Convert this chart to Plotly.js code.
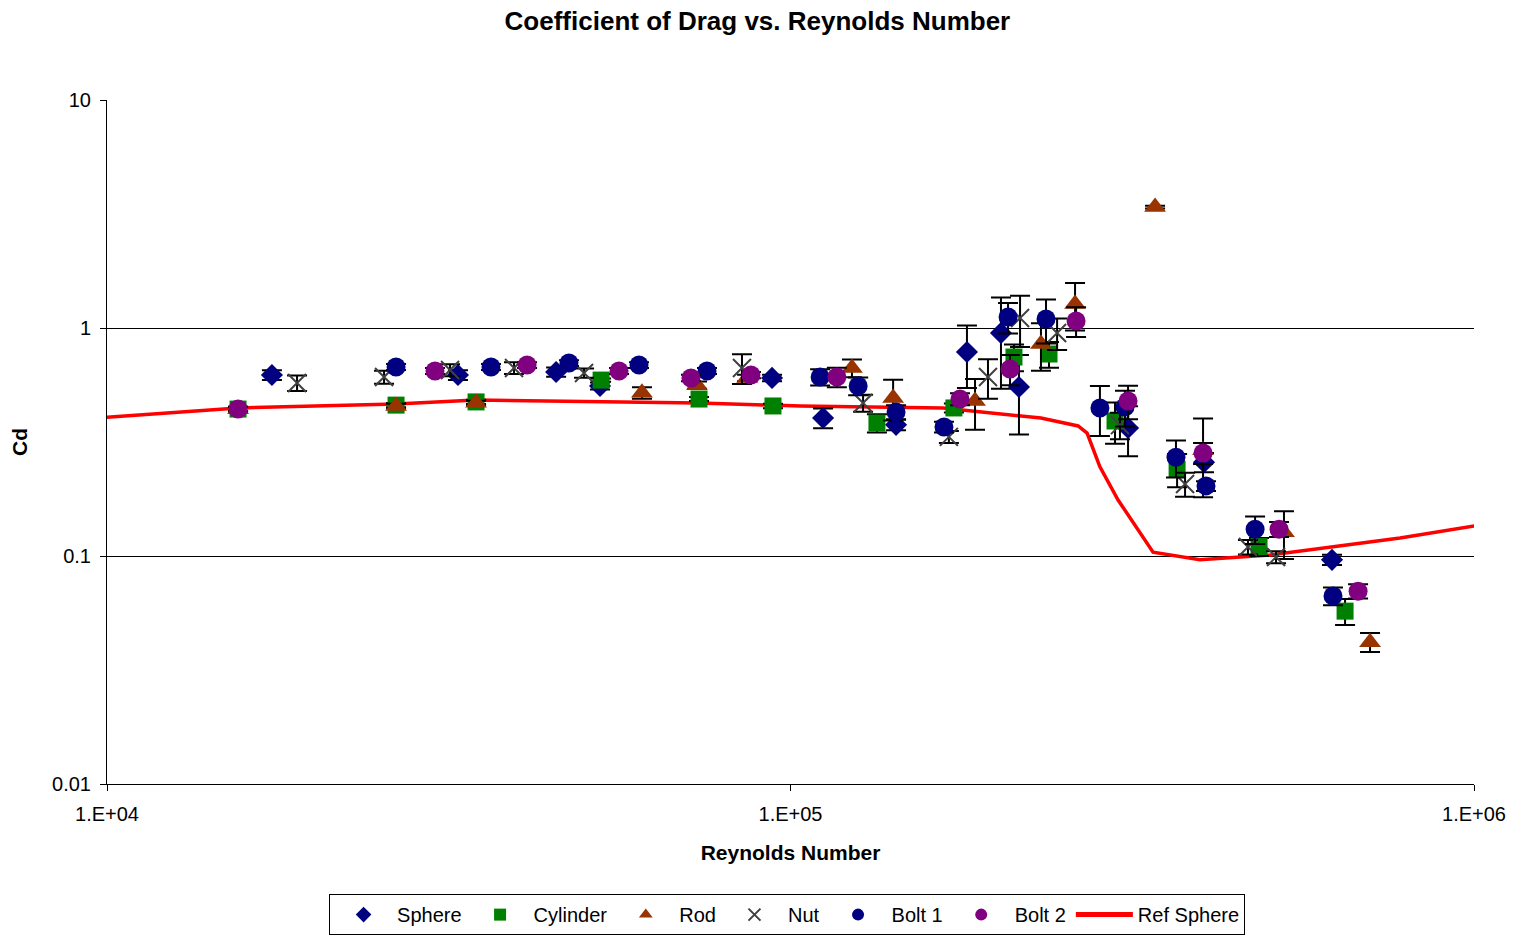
<!DOCTYPE html>
<html>
<head>
<meta charset="utf-8">
<script src="https://cdn.plot.ly/plotly-3.0.1.min.js"></script>
<style>html,body{margin:0;padding:0;background:#fff;}#chart{width:1524px;height:937px;}</style>
</head>
<body>
<div id="chart"></div>
<script>
// Sphere
const sphereRe  = [17430, 32620, 45400, 52640, 93970, 111600, 142700, 181200, 203200, 215900, 311800, 402700, 619800];
const sphereCd  = [0.622, 0.622, 0.641, 0.557, 0.604, 0.403, 0.376, 0.785, 0.951, 0.551, 0.364, 0.258, 0.0962];
const sphereErr = [0.03, 0.03, 0.03, 0.02, 0.02, 0.04, 0.02, 0.24, 0.41, 0.21, 0.09, 0.025, 0.005];
// Cylinder
const cylRe  = [15550, 26480, 34670, 52830, 73480, 94270, 133800, 173400, 212300, 238900, 298400, 367800, 484700, 647700];
const cylCd  = [0.441, 0.459, 0.474, 0.591, 0.488, 0.455, 0.383, 0.446, 0.746, 0.769, 0.391, 0.240, 0.110, 0.0573];
const cylErr = [0.01, 0.01, 0.01, 0.01, 0.01, 0.01, 0.035, 0.02, 0.1, 0.1, 0.08, 0.04, 0.01, 0.0075];
// Rod
const rodRe  = [15550, 26480, 34670, 60630, 72980, 86390, 123000, 141300, 186200, 232500, 260800, 341500, 401400, 527200, 704500];
const rodCd  = [0.44, 0.455, 0.47, 0.52, 0.562, 0.604, 0.668, 0.493, 0.478, 0.85, 1.274, 3.39, 0.291, 0.127, 0.0419];
const rodErr = [0.01, 0.01, 0.01, 0.03, 0.02, 0.02, 0.06, 0.1, 0.12, 0.2, 0.3, 0.05, 0.11, 0.03, 0.004];
// Nut
const nutRe  = [18970, 25430, 31760, 39400, 49880, 84920, 127700, 170500, 194500, 216700, 245500, 303400, 377800, 467000, 513300];
const nutCd  = [0.574, 0.610, 0.654, 0.668, 0.635, 0.668, 0.469, 0.333, 0.61, 1.106, 0.951, 0.375, 0.207, 0.1096, 0.099];
const nutErr = [0.045, 0.04, 0.04, 0.04, 0.03, 0.1, 0.04, 0.02, 0.12, 0.28, 0.15, 0.05, 0.025, 0.008, 0.006];
// Bolt 1
const bolt1Re  = [26480, 36460, 47410, 60030, 75480, 110500, 125600, 142700, 167700, 208100, 236500, 283600, 308600, 366400, 405400, 478300, 621900];
const bolt1Cd  = [0.675, 0.675, 0.702, 0.688, 0.648, 0.61, 0.557, 0.428, 0.368, 1.117, 1.095, 0.446, 0.45, 0.271, 0.203, 0.131, 0.0668];
const bolt1Err = [0.02, 0.02, 0.02, 0.02, 0.02, 0.05, 0.05, 0.03, 0.02, 0.17, 0.24, 0.11, 0.08, 0.05, 0.01, 0.018, 0.006];
// Bolt 2
const bolt2Re  = [15550, 30190, 41170, 56120, 71510, 87530, 116900, 177000, 209500, 261700, 311800, 401400, 518500, 676700];
const bolt2Cd  = [0.441, 0.648, 0.688, 0.648, 0.604, 0.622, 0.61, 0.488, 0.661, 1.073, 0.478, 0.283, 0.131, 0.0701];
const bolt2Err = [0.01, 0.02, 0.02, 0.02, 0.02, 0.02, 0.06, 0.03, 0.1, 0.16, 0.08, 0.03, 0.01, 0.005];
// Reference sphere curve
const refRe = [9670, 15550, 26480, 34670, 73480, 103300, 167100, 232500, 263500, 271600, 283600, 301500, 339200, 397200, 502900, 779500, 1038000];
const refCd = [0.403, 0.446, 0.464, 0.483, 0.469, 0.455, 0.446, 0.403, 0.372, 0.346, 0.246, 0.176, 0.104, 0.0962, 0.101, 0.120, 0.138];

const yTickVals = [0.01, 0.1, 1, 10];
const yTickText = ['0.01', '0.1', '1', '10'];
const xTickVals = [1e4, 1e5, 1e6];
const xTickText = ['1.E+04', '1.E+05', '1.E+06'];

const FONT = 'Liberation Sans, Arial, sans-serif';
function err(arr) {
  return {type: 'data', array: arr, symmetric: true, color: '#000', thickness: 2, width: 10};
}
function pts(name, x, y, e, symbol, color, size, rank, extra) {
  return {
    type: 'scatter', mode: 'markers', name: name, x: x, y: y,
    error_y: err(e), legendrank: rank,
    marker: Object.assign({symbol: symbol, color: color, size: size}, extra || {})
  };
}

const traces = [
  {type: 'scatter', mode: 'lines', name: 'Ref Sphere', x: refRe, y: refCd,
   line: {color: '#FF0000', width: 3.5}, legendrank: 7},
  pts('Sphere', sphereRe, sphereCd, sphereErr, 'diamond', '#000080', 17, 1),
  pts('Cylinder', cylRe, cylCd, cylErr, 'square', '#008000', 17, 2),
  pts('Rod', rodRe, rodCd, rodErr, 'triangle-up', '#993300', 19, 3),
  pts('Nut', nutRe, nutCd, nutErr, 'x-thin-open', '#404040', 18, 4, {line: {color: '#404040', width: 2}}),
  pts('Bolt 1', bolt1Re, bolt1Cd, bolt1Err, 'circle', '#000080', 19, 5),
  pts('Bolt 2', bolt2Re, bolt2Cd, bolt2Err, 'circle', '#800080', 19, 6)
];

const layout = {
  width: 1524, height: 937,
  margin: {l: 107, r: 50, t: 100, b: 153, autoexpand: false},
  paper_bgcolor: '#fff', plot_bgcolor: '#fff',
  font: {family: FONT, color: '#000'},
  title: {text: '<b>Coefficient of Drag vs. Reynolds Number</b>', font: {family: FONT, size: 26, color: '#000'},
          x: 0.497, xanchor: 'center', y: 0.978, yanchor: 'middle'},
  xaxis: {
    type: 'log', range: [4, 6], tickvals: xTickVals, ticktext: xTickText,
    tickfont: {size: 20}, showgrid: false, zeroline: false, automargin: false,
    showline: true, linecolor: '#000', linewidth: 1,
    ticks: 'outside', ticklen: 6, tickcolor: '#000', ticklabelstandoff: 6,
    title: {text: '<b>Reynolds Number</b>', font: {size: 21}, standoff: 21}
  },
  yaxis: {
    type: 'log', range: [-2, 1], tickvals: yTickVals, ticktext: yTickText,
    tickfont: {size: 20}, showgrid: true, gridcolor: '#000', gridwidth: 1, zeroline: false, automargin: false,
    showline: true, linecolor: '#000', linewidth: 1,
    ticks: 'outside', ticklen: 6, tickcolor: '#000', ticklabelstandoff: 5,
    title: {text: '<b>Cd</b>', font: {size: 21}, standoff: 18}
  },
  legend: {
    orientation: 'h', x: 0.4975, xanchor: 'center', y: -0.161, yanchor: 'top',
    bordercolor: '#000', borderwidth: 1, bgcolor: '#fff',
    font: {size: 20, family: FONT}, itemsizing: 'constant', itemwidth: 57, traceorder: 'normal'
  },
  showlegend: true
};

Plotly.newPlot('chart', traces, layout, {displayModeBar: false, staticPlot: true});
</script>
</body>
</html>
